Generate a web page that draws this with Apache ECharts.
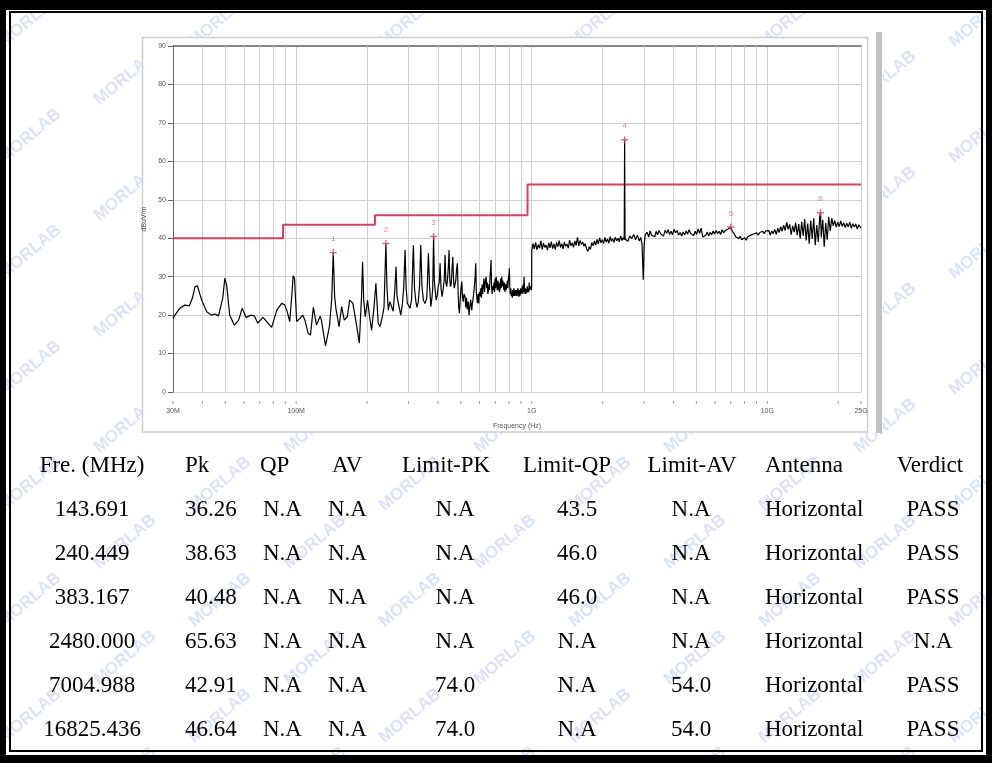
<!DOCTYPE html>
<html><head><meta charset="utf-8">
<script src="https://cdn.jsdelivr.net/npm/echarts@6.0.0/dist/echarts.min.js"></script>
<style>html,body{margin:0;padding:0;background:#fff}#c{width:992px;height:763px}</style>
</head><body><div id="c"></div>
<script>
// ---------- data ----------
const X_MIN_MHZ = 30, X_MAX_MHZ = 25000;
const Y_TICKS = [0, 10, 20, 30, 40, 50, 60, 70, 80, 90];
const LIMIT_MHZ = [30, 88, 216, 960, 25000];
const LIMIT_DB = [40, 43.5, 46, 54, 54];
const GRID_MHZ = [40,50,60,70,80,90,200,300,400,500,600,700,800,900,2000,3000,4000,5000,6000,7000,8000,9000,20000];
const TICK_MHZ = [30,40,50,60,70,80,90,100,200,300,400,500,600,700,800,900,1000,2000,3000,4000,5000,6000,7000,8000,9000,10000,20000,25000];
const MARKER_MHZ = [143.691, 240.449, 383.167, 2480.000, 7004.988, 16825.436];
const MARKER_PK = [36.26, 38.63, 40.48, 65.63, 42.91, 46.64];
const COL_QP = ['N.A','N.A','N.A','N.A','N.A','N.A'];
const COL_AV = ['N.A','N.A','N.A','N.A','N.A','N.A'];
const COL_LIMIT_PK = ['N.A','N.A','N.A','N.A','74.0','74.0'];
const COL_LIMIT_QP = ['43.5','46.0','46.0','N.A','N.A','N.A'];
const COL_LIMIT_AV = ['N.A','N.A','N.A','N.A','54.0','54.0'];
const COL_ANTENNA = ['Horizontal','Horizontal','Horizontal','Horizontal','Horizontal','Horizontal'];
const COL_VERDICT = ['PASS','PASS','PASS','N.A','PASS','PASS'];
const TABLE_HEADERS = ['Fre. (MHz)','Pk','QP','AV','Limit-PK','Limit-QP','Limit-AV','Antenna','Verdict'];

const TRACE_LOW = [[30,19.2],[31,20.5],[32.1,21.8],[33.7,22.6],[35.2,22.4],[36.3,24.5],[37.2,27.4],[38.1,27.6],[39.7,23.9],[41.7,20.9],[43.6,20.0],[45.2,20.3],[46.8,19.8],[47.4,19.6],[48.8,24.5],[49.8,29.6],[50.7,27.8],[52.2,20.0],[54.6,17.4],[57,18.7],[59,21.8],[61.3,19.4],[64.4,20.0],[66.5,19.8],[68.7,17.9],[72.3,19.4],[75,18.3],[78.7,16.8],[82.8,21.3],[86.9,23.1],[89.5,22.6],[91.6,20.9],[93.9,18.3],[95.8,25.0],[97.1,30.2],[98.4,29.6],[100.5,18.3],[104,19.2],[106.6,20.0],[108.9,18.7],[112.4,15.3],[115,14.8],[118.3,22.0],[122,17.4],[126.4,19.7],[128,18.7],[133.2,12.0],[138.4,17.0],[141.5,24.0],[143.7,36.2],[145.6,25.0],[147.4,21.8],[152.1,17.0],[156,22.2],[160,18.7],[165,19.6],[168.6,23.9],[174,23.1],[179,18.7],[185.4,12.7],[189.5,25.0],[191.4,33.9],[193.5,24.0],[196.5,19.6],[201,23.9],[205,19.5],[209,16.1],[214,22.0],[218,28.3],[223,17.9],[227,17.0],[232,19.5],[236,22.0],[240.4,38.6],[243,27.0],[246,21.3],[250,23.5],[254,23.9],[258,21.0],[262,26.0],[265.5,32.6],[268,25.0],[271.5,23.1],[275,21.5],[278,20.0],[282,22.5],[286,27.0],[290,36.9],[293,27.0],[296.5,23.1],[300,22.5],[304.4,21.8],[309,24.0],[314.5,38.2],[318,27.0],[322.9,23.1],[326,22.0],[330,23.5],[334,27.5],[338,38.2],[342,27.5],[346.8,23.9],[352,23.0],[358.5,24.3],[361,29.0],[364.3,36.1],[368,28.0],[373,22.2],[377,24.5],[380,27.0],[383.2,40.5],[386,29.0],[392.6,23.9],[397,25.0],[401,27.5],[405,28.5],[408.3,33.5],[412,27.0],[416.3,24.8],[420,26.5],[425,29.0],[428.7,35.6],[432,28.5],[435.9,27.4],[440,30.0],[443,33.0],[445.8,36.9],[449,29.0],[452,27.4],[455,28.0],[458,31.0],[462.3,35.2],[466,29.0],[469,27.0],[472.8,26.5],[476,29.0],[479,31.5],[483.5,33.5],[487,26.0],[490,22.0],[493,20.5],[497,24.0],[501,27.0],[504.8,28.7],[508,25.0],[512,23.5],[516,25.5],[521.3,24.8],[525,22.0],[529,24.5],[533,21.5],[538.3,23.5],[542,20.0],[547,22.5],[551,24.0],[556.4,21.3],[560,23.0],[565.2,24.8],[569,26.5],[572,28.0],[575,30.0],[578.6,33.5],[582,26.0],[585,24.5],[587.9,23.1],[592,25.5],[596,23.0],[600,26.0],[603.6,24.8],[608,27.0],[612,24.5],[616,28.0],[619,25.5],[623.5,27.4],[627,29.5],[631,26.0],[635,28.5],[640.2,30.0],[644,27.0],[648,28.5],[651,25.5],[654.7,26.1],[658,28.0],[662,26.5],[666,30.5],[669,32.0],[672,34.3],[675,28.0],[679,25.5],[683,27.5],[687.5,26.5],[691,28.5],[695,26.0],[699,29.5],[703,27.0],[706,30.0],[710.6,28.3],[714,26.5],[718,29.0],[722,26.5],[726,28.5],[730,26.0],[734,27.0],[738,29.5],[742,27.0],[746,30.0],[750,27.5],[754,29.0],[758,29.1],[762,26.5],[766,28.5],[770,26.0],[775,28.0],[779,26.5],[783.7,27.4],[788,29.0],[792,27.0],[796,29.5],[800,30.5],[803.8,32.2],[807,27.5],[811,25.5],[815,27.0],[819,25.0],[822.8,26.1],[827,24.5],[831,26.5],[835,25.0],[840,27.0],[845,25.0],[849.9,24.8],[854,26.5],[858,25.0],[863,26.5],[867,25.0],[872,27.0],[877.8,26.1],[882,24.8],[887,26.5],[891,25.0],[896,27.0],[901,25.5],[907.5,25.7],[912,27.5],[916,25.5],[920,28.0],[924,26.0],[928,30.0],[932,27.0],[936,25.5],[940,27.0],[945,25.5],[949,26.8],[952.8,26.1],[957,27.5],[962,25.8],[966,27.0],[971,26.0],[975,28.5],[979,26.5],[984,27.0],[988,26.0],[993,27.5],[997,26.5],[999.5,27.8]];

const TRACE_MID = [[1000.5,36.8],[1013,38.6],[1026,37.2],[1039,38.9],[1052,37.0],[1066,38.3],[1080,37.4],[1094,39.3],[1108,37.1],[1122,38.7],[1136,37.6],[1151,38.2],[1166,36.9],[1181,38.8],[1196,37.5],[1211,39.1],[1227,37.3],[1243,38.5],[1259,37.0],[1275,38.9],[1291,37.8],[1308,39.4],[1325,37.6],[1342,38.6],[1359,37.2],[1376,39.0],[1394,37.9],[1412,38.5],[1430,37.4],[1448,39.5],[1467,38.0],[1486,38.8],[1505,37.6],[1524,39.3],[1544,38.1],[1564,40.2],[1584,38.0],[1604,39.4],[1625,38.4],[1646,39.0],[1667,37.9],[1688,38.6],[1710,37.2],[1732,36.6],[1754,37.8],[1777,37.1],[1800,38.9],[1823,38.0],[1846,39.3],[1870,38.2],[1894,39.7],[1918,38.5],[1943,40.1],[1968,38.8],[1993,39.6],[2019,38.6],[2045,40.2],[2071,39.0],[2098,39.8],[2125,38.7],[2152,40.4],[2180,39.2],[2208,39.9],[2236,38.9],[2265,40.3],[2294,39.3],[2324,40.0],[2354,39.1],[2384,40.6],[2415,39.4],[2446,40.2],[2470,39.6],[2480,65.6],[2490,39.8],[2520,40.3],[2560,39.2],[2610,40.6],[2660,39.9],[2710,41.0],[2760,39.6],[2810,40.8],[2860,39.3],[2900,40.2],[2940,38.5],[2975,29.2],[3000,38.0]];

const TRACE_HIGH = [[3030,40.8],[3089,41.6],[3140,40.3],[3181,41.9],[3230,40.7],[3276,41.2],[3330,40.4],[3374,41.8],[3420,40.9],[3474,42.0],[3530,41.1],[3578,41.6],[3630,40.6],[3684,42.1],[3740,41.3],[3794,42.2],[3850,41.0],[3907,41.8],[3960,40.9],[4024,42.3],[4080,41.4],[4144,42.0],[4200,40.8],[4267,41.5],[4330,40.6],[4394,41.6],[4460,40.9],[4525,41.9],[4590,41.1],[4660,42.2],[4730,41.2],[4799,41.6],[4870,40.7],[4942,41.8],[5010,41.0],[5090,42.4],[5160,41.3],[5241,42.6],[5320,40.3],[5398,40.0],[5480,40.8],[5558,41.6],[5640,40.6],[5724,41.5],[5810,40.9],[5895,41.9],[5980,41.1],[6070,42.0],[6160,41.2],[6251,41.8],[6340,41.0],[6438,42.2],[6530,41.4],[6629,42.0],[6730,41.6],[6827,42.4],[6920,42.0],[7005,42.9],[7100,41.8],[7240,41.2],[7340,40.4],[7456,40.8],[7560,39.9],[7678,40.5],[7790,39.6],[7907,39.4],[8020,40.1],[8142,39.5],[8260,40.4],[8385,40.0],[8510,40.8],[8635,40.3],[8760,41.1],[8892,40.6],[9020,41.4],[9157,40.8],[9290,41.5],[9430,41.0],[9570,41.8],[9711,41.2],[9850,41.9],[10000,41.4],[10150,42.0],[10300,40.8],[10450,41.9],[10600,41.2],[10760,42.3],[10920,41.0],[11080,42.6],[11240,41.5],[11400,43.0],[11570,41.8],[11740,43.4],[11910,42.0],[12090,44.1],[12270,42.3],[12450,43.6],[12630,40.9],[12820,43.2],[13010,41.6],[13200,44.0],[13400,40.8],[13600,43.7],[13800,39.9],[14000,44.3],[14210,40.6],[14420,45.0],[14630,39.4],[14850,43.8],[15070,38.6],[15290,44.6],[15520,39.8],[15750,45.2],[15980,38.2],[16220,43.4],[16460,39.0],[16700,45.6],[16825,46.6],[16950,40.2],[17200,44.8],[17450,37.8],[17710,44.0],[17970,39.6],[18240,45.6],[18510,41.8],[18780,45.2],[19060,43.2],[19340,44.6],[19630,42.9],[19920,44.2],[20210,43.0],[20510,44.5],[20810,43.1],[21120,44.0],[21430,42.8],[21750,43.9],[22070,43.0],[22400,44.2],[22730,42.6],[23070,43.8],[23410,42.9],[23760,43.7],[24110,42.4],[24470,43.5],[25000,42.6]];

// ---------- styles ----------
const RED = '#d8405f';
const GRIDC = '#d0d0d0';
const AXISC = '#666';
const SMALL_FONT = 'Liberation Sans';
const SERIF = '"Liberation Serif", "Times New Roman", serif';

const chart = echarts.init(document.getElementById('c'), null, {renderer: 'canvas'});

const fmtFreq = v => { v = Math.round(v); return v >= 1000 ? (v / 1000) + 'G' : v + 'M'; };

// ---------- decorations (graphic) ----------
const graphics = [];
for (let r = 0; r < 14; r++) {
  for (let c = 0; c < 7; c++) {
    graphics.push({
      type: 'text', x: c * 190 + (r % 2) * 95 + 30, y: r * 58 + 20, rotation: 0.7, z: -3, silent: true,
      style: {text: 'MORLAB', x: 0, y: 0, align: 'center', verticalAlign: 'middle',
              font: 'bold 17px "Liberation Sans"', fill: 'rgba(140,165,225,0.32)'}
    });
  }
}
graphics.push({type: 'rect', z: -2, silent: true, shape: {x: 142.5, y: 37.5, width: 740, height: 395}, style: {fill: '#fff', stroke: null}});
graphics.push({type: 'rect', z: -1, silent: true, shape: {x: 142.5, y: 37.5, width: 725, height: 394.5}, style: {fill: null, stroke: '#cdcdcd', lineWidth: 1.5}});
graphics.push({type: 'rect', z: -1, silent: true, shape: {x: 876, y: 32, width: 6, height: 401}, style: {fill: '#c2c2c2'}});
graphics.push({type: 'rect', z: 20, silent: true, shape: {x: 0, y: 0, width: 992, height: 10}, style: {fill: '#000'}});
graphics.push({type: 'rect', z: 20, silent: true, shape: {x: 0, y: 755, width: 992, height: 8}, style: {fill: '#000'}});
graphics.push({type: 'rect', z: 20, silent: true, shape: {x: 0, y: 0, width: 6, height: 763}, style: {fill: '#000'}});
graphics.push({type: 'rect', z: 20, silent: true, shape: {x: 986, y: 0, width: 6, height: 763}, style: {fill: '#000'}});
graphics.push({type: 'rect', z: 20, silent: true, shape: {x: 10, y: 12, width: 972, height: 739}, style: {fill: null, stroke: '#000', lineWidth: 2}});

// table
const headerY = 466, rowStep = 44;
const headerCols = [[92,'center'],[185,'left'],[260,'left'],[332,'left'],[446,'center'],[567,'center'],[692,'center'],[765,'left'],[930,'center']];
const valueCols = [[92,'center'],[185,'left'],[263,'left'],[328,'left'],[455,'center'],[577,'center'],[691,'center'],[765,'left'],[933,'center']];
const tableFont = '23px ' + SERIF;
TABLE_HEADERS.forEach((h, i) => {
  graphics.push({type: 'text', z: 10, silent: true, style: {text: h, x: headerCols[i][0], y: headerY, align: headerCols[i][1], verticalAlign: 'middle', font: tableFont, fill: '#000'}});
});
MARKER_MHZ.forEach((f, r) => {
  const cells = [f.toFixed(3), MARKER_PK[r].toFixed(2), COL_QP[r], COL_AV[r], COL_LIMIT_PK[r], COL_LIMIT_QP[r], COL_LIMIT_AV[r], COL_ANTENNA[r], COL_VERDICT[r]];
  cells.forEach((t, i) => {
    graphics.push({type: 'text', z: 10, silent: true, style: {text: t, x: valueCols[i][0], y: headerY + rowStep * (r + 1), align: valueCols[i][1], verticalAlign: 'middle', font: tableFont, fill: '#000'}});
  });
});

const plusPath = 'path://M4,0h2v4h4v2h-4v4h-2v-4h-4v-2h4z';

chart.setOption({
  animation: false,
  backgroundColor: '#fff',
  graphic: {elements: graphics},
  grid: [
    {left: 173, top: 46, width: 688, height: 346, containLabel: false},
    {left: 173, top: 400, width: 688, height: 5, containLabel: false}
  ],
  xAxis: [
    {
      type: 'log', logBase: 10, min: X_MIN_MHZ, max: X_MAX_MHZ, gridIndex: 0, position: 'bottom',
      name: 'Frequency (Hz)', nameLocation: 'middle', nameGap: 31,
      nameTextStyle: {fontSize: 7, color: '#555', fontFamily: SMALL_FONT},
      axisLine: {show: false}, axisTick: {show: false},
      axisLabel: {show: true, formatter: fmtFreq, fontSize: 7, color: '#555', fontFamily: SMALL_FONT, margin: 16, showMinLabel: true, showMaxLabel: true},
      splitLine: {show: true, lineStyle: {color: GRIDC, width: 1}}
    },
    {
      type: 'log', logBase: 10, min: X_MIN_MHZ, max: X_MAX_MHZ, gridIndex: 0, position: 'top',
      axisLine: {show: true, lineStyle: {color: AXISC, width: 1.5}}, axisTick: {show: false}, axisLabel: {show: false}, splitLine: {show: false}
    },
    {
      type: 'log', logBase: 10, min: X_MIN_MHZ, max: X_MAX_MHZ, gridIndex: 1, show: false
    }
  ],
  yAxis: [
    {
      type: 'value', min: Y_TICKS[0], max: Y_TICKS[Y_TICKS.length - 1], interval: 10, gridIndex: 0,
      name: 'dBuV/m', nameLocation: 'middle', nameGap: 18, nameRotate: 90,
      nameTextStyle: {fontSize: 7, color: '#555', fontFamily: SMALL_FONT},
      axisLine: {show: true, lineStyle: {color: AXISC, width: 1}},
      axisTick: {show: true, length: 5, lineStyle: {color: AXISC}},
      axisLabel: {fontSize: 7, color: '#555', fontFamily: SMALL_FONT, margin: 7},
      splitLine: {show: true, lineStyle: {color: GRIDC, width: 1}}
    },
    {type: 'value', min: 0, max: 1, gridIndex: 1, show: false}
  ],
  series: [
    {
      name: 'Limit', type: 'line', xAxisIndex: 0, yAxisIndex: 0, step: 'end', symbol: 'none', z: 3,
      data: LIMIT_MHZ.map((f, i) => [f, LIMIT_DB[i]]),
      lineStyle: {color: RED, width: 2},
      markLine: {
        z: 1, silent: true, symbol: ['none', 'none'], label: {show: false},
        lineStyle: {color: GRIDC, width: 1, type: 'solid'},
        emphasis: {disabled: true},
        data: GRID_MHZ.map(f => ({xAxis: f}))
      }
    },
    {
      name: 'Trace', type: 'line', xAxisIndex: 0, yAxisIndex: 0, symbol: 'none', z: 4,
      data: TRACE_LOW.concat(TRACE_MID, TRACE_HIGH),
      lineStyle: {color: '#000', width: 1.2}
    },
    {
      name: 'Markers', type: 'scatter', xAxisIndex: 0, yAxisIndex: 0, z: 5,
      data: MARKER_MHZ.map((f, i) => [f, MARKER_PK[i]]),
      symbol: plusPath, symbolSize: 7, itemStyle: {color: RED},
      label: {show: true, position: 'top', distance: 6, formatter: p => String(p.dataIndex + 1), fontSize: 8, color: '#e06078', fontFamily: SMALL_FONT}
    },
    {
      name: 'Ticks', type: 'scatter', xAxisIndex: 2, yAxisIndex: 1, silent: true,
      data: TICK_MHZ.map(f => [f, 0.5]),
      symbol: 'rect', symbolSize: [1, 3], itemStyle: {color: '#888'}
    }
  ]
});
</script>
</body></html>
